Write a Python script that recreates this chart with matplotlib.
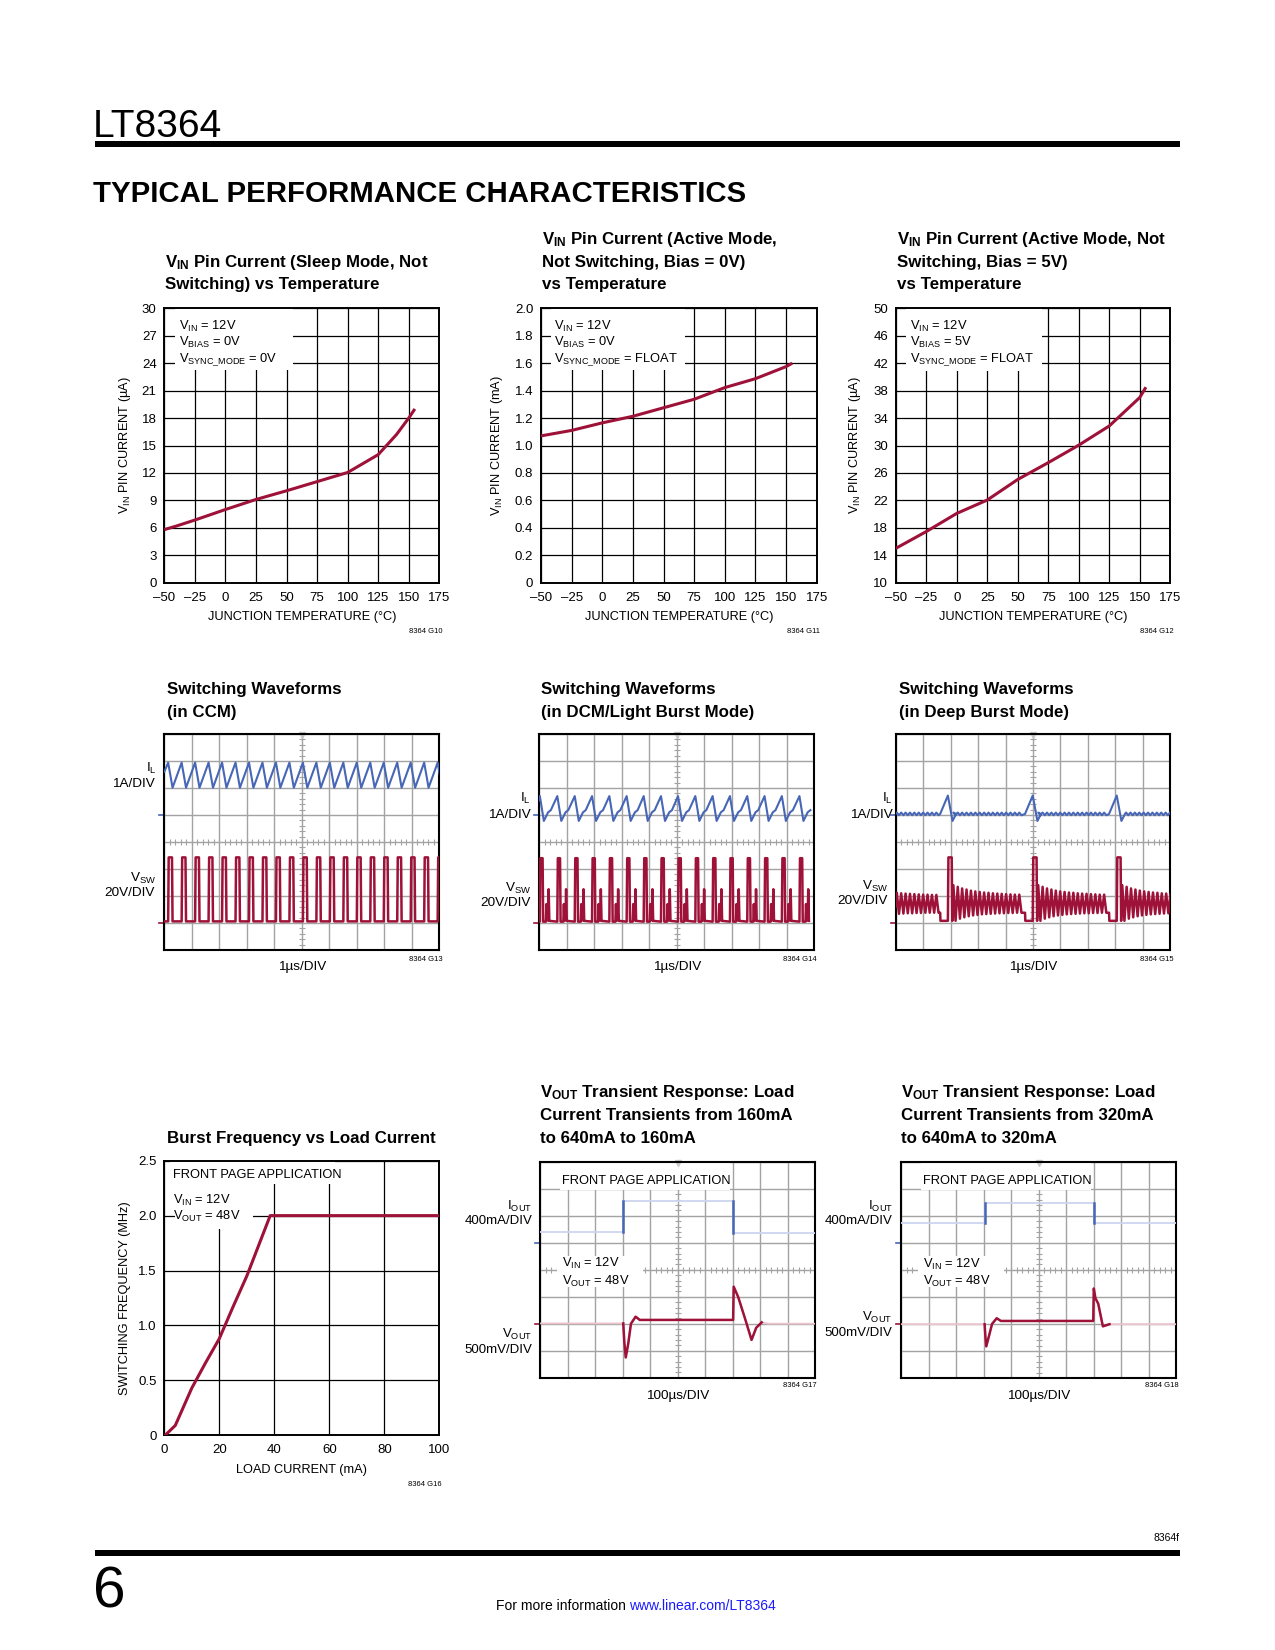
import matplotlib
matplotlib.use("Agg")
import matplotlib.pyplot as plt
from matplotlib.patches import Rectangle
import numpy as np

W, H = 1275, 1650
FONT = ["Liberation Sans", "DejaVu Sans"]
RED = "#9e1138"
BLUE = "#4766b6"
RED_FAINT = "#ebc3cd"
BLUE_FAINT = "#ccd6ef"
SCOPE_GRID = "#a3a3a3"

plt.rcParams["font.family"] = FONT
plt.rcParams["mathtext.fontset"] = "custom"
plt.rcParams["mathtext.rm"] = "Liberation Sans"
plt.rcParams["mathtext.it"] = "Liberation Sans:italic"
plt.rcParams["mathtext.bf"] = "Liberation Sans:bold"

TICK_FS = 9.5
NOTE_FS = 9.3
LABEL_FS = 9.2
TITLE_FS = 12.2

# ---------------- data ----------------
temp_ticks = [-50, -25, 0, 25, 50, 75, 100, 125, 150, 175]
temp_labels = ["\u201350", "\u201325", "0", "25", "50", "75", "100", "125", "150", "175"]

# G10 sleep mode current (uA)
g10_temp = [-50, -40, -25, 0, 25, 50, 75, 100, 125, 140, 150, 155]
g10_current = [5.8, 6.2, 6.85, 8.0, 9.1, 10.05, 11.05, 12.05, 14.0, 16.2, 18.0, 19.0]
g10_yticks = [0, 3, 6, 9, 12, 15, 18, 21, 24, 27, 30]

# G11 active mode, bias 0V (mA)
g11_temp = [-50, -25, 0, 25, 50, 75, 100, 125, 150, 155]
g11_current = [1.07, 1.11, 1.165, 1.213, 1.275, 1.337, 1.422, 1.487, 1.575, 1.60]
g11_yticks = [0, 0.2, 0.4, 0.6, 0.8, 1.0, 1.2, 1.4, 1.6, 1.8, 2.0]
g11_ylabels = ["0", "0.2", "0.4", "0.6", "0.8", "1.0", "1.2", "1.4", "1.6", "1.8", "2.0"]

# G12 active mode, bias 5V (uA)
g12_temp = [-50, -25, 0, 25, 50, 75, 100, 125, 150, 155]
g12_current = [15.0, 17.45, 20.1, 22.05, 25.05, 27.5, 30.05, 32.85, 37.0, 38.5]
g12_yticks = [10, 14, 18, 22, 26, 30, 34, 38, 42, 46, 50]

# G16 burst frequency vs load
g16_load = [0.3, 4, 10, 15, 20, 25, 30, 38.5, 100]
g16_freq = [0.0, 0.09, 0.43, 0.66, 0.88, 1.17, 1.45, 2.0, 2.0]
g16_xticks = [0, 20, 40, 60, 80, 100]
g16_yticks = [0, 0.5, 1.0, 1.5, 2.0, 2.5]
g16_ylabels = ["0", "0.5", "1.0", "1.5", "2.0", "2.5"]

# scope traces, in screen divisions (x 0..10, y 0..8 from bottom)
# G13 CCM: switch-node rising edges
ccm_rise = [0.14, 0.63, 1.12, 1.61, 2.10, 2.59, 3.08, 3.57, 4.06, 4.55, 5.04,
            5.53, 6.02, 6.51, 7.00, 7.49, 7.98, 8.47, 8.96, 9.45, 9.94]
ccm_width = 0.14
ccm_sw_hi, ccm_sw_lo = 3.43, 1.06
ccm_il_hi, ccm_il_lo = 6.94, 6.01
ccm_il_start = 6.6

# G14 DCM / light burst
dcm_rise = [0.02, 0.655, 1.29, 1.92, 2.55, 3.18, 3.80, 4.43, 5.05, 5.68,
            6.31, 6.94, 7.57, 8.20, 8.83, 9.47]
dcm_il_offset = [0.0, 0.146, 0.30, 0.40]
dcm_il_level = [5.70, 4.78, 5.10, 5.18]
dcm_sw_offset = [0.0, 0.02, 0.10, 0.12, 0.22, 0.24, 0.26, 0.30, 0.32, 0.345]
dcm_sw_level = [1.05, 3.40, 3.40, 1.05, 1.05, 1.70, 1.10, 1.10, 2.25, 1.08]

# G15 deep burst
deep_burst = [1.90, 4.99, 8.05]
deep_on_lead = 0.28
deep_pulse_w = 0.14
deep_ring_period = 0.16
deep_ring_hi = [2.40, 2.34, 2.28, 2.24, 2.20, 2.17, 2.15, 2.13, 2.12, 2.10,
                2.09, 2.08, 2.07, 2.06, 2.05, 2.05, 2.04]
deep_ring_lo = [1.08, 1.16, 1.21, 1.25, 1.28, 1.30, 1.32, 1.33, 1.34, 1.35,
                1.36, 1.36, 1.37, 1.37, 1.38, 1.38, 1.38]
deep_sw_hi, deep_sw_lo = 3.43, 1.08
deep_il_mid, deep_il_ripple = 5.04, 0.05
deep_il_peak, deep_il_valley = 5.72, 4.78

# G17 transient 160mA -> 640mA -> 160mA
g17_iout_t = [0, 3.02, 3.02, 7.03, 7.03, 10]
g17_iout_v = [5.38, 5.38, 6.53, 6.53, 5.36, 5.36]
g17_vout_t = [0, 3.02, 3.06, 3.11, 3.20, 3.30, 3.47, 3.62, 7.02, 7.04, 7.20,
              7.45, 7.69, 7.86, 8.06, 8.3, 10]
g17_vout_v = [2.01, 2.01, 1.30, 0.75, 1.25, 2.0, 2.26, 2.14, 2.14, 3.37, 3.0,
              2.2, 1.40, 1.85, 2.05, 2.0, 2.0]
g17_dark = (3.0, 8.1)

# G18 transient 320mA -> 640mA -> 320mA
g18_iout_t = [0, 3.03, 3.03, 6.99, 6.99, 10]
g18_iout_v = [5.74, 5.74, 6.48, 6.48, 5.74, 5.74]
g18_vout_t = [0, 3.03, 3.06, 3.09, 3.20, 3.30, 3.47, 3.62, 6.98, 7.00, 7.06,
              7.16, 7.33, 7.45, 7.57, 10]
g18_vout_v = [1.99, 1.99, 1.50, 1.17, 1.60, 2.0, 2.21, 2.11, 2.11, 3.31, 2.95,
              2.75, 1.91, 1.95, 1.99, 1.99]
g18_dark = (3.0, 7.6)


# ---------------- helpers ----------------
def add_axes(fig, left, top, right, bottom):
    return fig.add_axes([left / W, 1 - bottom / H, (right - left) / W, (bottom - top) / H])


def ftext(fig, x, y, s, **kw):
    kw.setdefault("va", "baseline")
    return fig.text(x / W, 1 - y / H, s, **kw)


def title(fig, x, y0, lines):
    for i, line in enumerate(lines):
        ftext(fig, x, y0 + i * 22.7, line, fontsize=TITLE_FS, fontweight="bold")


def style_graph(ax, xlim, xticks, xlabels, ylim, yticks, ylabels):
    ax.set_xlim(*xlim)
    ax.set_ylim(*ylim)
    ax.set_xticks(xticks, xlabels)
    ax.set_yticks(yticks, ylabels)
    ax.grid(True, color="black", lw=0.9)
    ax.tick_params(length=0, labelsize=TICK_FS)
    ax.tick_params(axis="x", pad=6.5)
    ax.tick_params(axis="y", pad=5.5)
    for s in ax.spines.values():
        s.set_linewidth(1.4)


def cover(ax, x0, x1, y0, y1):
    ax.add_patch(Rectangle((x0, y0), x1 - x0, y1 - y0, facecolor="white",
                           edgecolor="none", zorder=1.8))


def style_scope(ax):
    ax.set_xlim(0, 10)
    ax.set_ylim(0, 8)
    ax.set_xticks(range(11))
    ax.set_yticks(range(9))
    ax.tick_params(length=0, labelbottom=False, labelleft=False)
    ax.grid(True, color=SCOPE_GRID, lw=1.0)
    for s in ax.spines.values():
        s.set_linewidth(1.5)
    xm = np.arange(0.2, 10, 0.2)
    ym = np.arange(0.2, 8, 0.2)
    ax.plot(xm, np.full_like(xm, 4), ls="none", marker="|", ms=4, mew=0.8,
            color=SCOPE_GRID, zorder=1.6)
    ax.plot(np.full_like(ym, 5), ym, ls="none", marker="_", ms=4, mew=0.8,
            color=SCOPE_GRID, zorder=1.6)
    ax.plot([5], [7.97], ls="none", marker="v", ms=4, color="#c8c8c8", clip_on=False)


def channel_marks(ax, y_blue, y_red):
    ax.plot([-0.18, 0], [y_blue, y_blue], color=BLUE, lw=1.2, clip_on=False)
    ax.plot([-0.18, 0], [y_red, y_red], color=RED, lw=1.2, clip_on=False)


def ring(t0, t1, hi, lo, start=0):
    ts, vs = [], []
    k = 0
    while True:
        th = t0 + (k + 0.25) * deep_ring_period
        tl = t0 + (k + 0.75) * deep_ring_period
        if tl > t1:
            break
        i = min(start + k, len(hi) - 1)
        ts += [th, tl]
        vs += [hi[i], lo[i]]
        k += 1
    return ts, vs


fig = plt.figure(figsize=(W / 100, H / 100), dpi=100)

# ---------------- page furniture ----------------
ftext(fig, 93, 137, "LT8364", fontsize=28)
fig.add_artist(Rectangle((95 / W, 1 - 147 / H), 1085 / W, 6 / H, transform=fig.transFigure,
                         facecolor="black", edgecolor="none"))
ftext(fig, 93, 202, "TYPICAL PERFORMANCE CHARACTERISTICS", fontsize=21.2, fontweight="bold")
ftext(fig, 1180, 1541, "8364f", fontsize=7.5, ha="right")
fig.add_artist(Rectangle((95 / W, 1 - 1556 / H), 1085 / W, 6 / H, transform=fig.transFigure,
                         facecolor="black", edgecolor="none"))
ftext(fig, 93, 1608, "6", fontsize=42)
ftext(fig, 626, 1610, "For more information", fontsize=10, ha="right")
ftext(fig, 629, 1610, "www.linear.com/LT8364", fontsize=10, color="#1a1aff")

# ---------------- row 1: VIN pin current ----------------
row1 = [
    (164.3, 439.3, g10_temp, g10_current, (0, 30), g10_yticks, [str(v) for v in g10_yticks],
     "V$_{\\mathrm{IN}}$ PIN CURRENT (\u00b5A)", 125, "8364 G10",
     ["V$_{\\mathbf{IN}}$ Pin Current (Sleep Mode, Not", "Switching) vs Temperature"], 266.7,
     ["V$_{\\mathrm{IN}}$ = 12V", "V$_{\\mathrm{BIAS}}$ = 0V", "V$_{\\mathrm{SYNC\\_MODE}}$ = 0V"],
     (-41.3, 55.5, 23.25), -38, [27.63, 25.92, 24.1]),
    (541.0, 816.7, g11_temp, g11_current, (0, 2.0), g11_yticks, g11_ylabels,
     "V$_{\\mathrm{IN}}$ PIN CURRENT (mA)", 496.7, "8364 G11",
     ["V$_{\\mathbf{IN}}$ Pin Current (Active Mode,", "Not Switching, Bias = 0V)", "vs Temperature"], 244,
     ["V$_{\\mathrm{IN}}$ = 12V", "V$_{\\mathrm{BIAS}}$ = 0V", "V$_{\\mathrm{SYNC\\_MODE}}$ = FLOAT"],
     (-41.8, 67.5, 1.55), -39.4, [1.842, 1.728, 1.607]),
    (895.7, 1170.3, g12_temp, g12_current, (10, 50), g12_yticks, [str(v) for v in g12_yticks],
     "V$_{\\mathrm{IN}}$ PIN CURRENT (\u00b5A)", 855, "8364 G12",
     ["V$_{\\mathbf{IN}}$ Pin Current (Active Mode, Not", "Switching, Bias = 5V)", "vs Temperature"], 244,
     ["V$_{\\mathrm{IN}}$ = 12V", "V$_{\\mathrm{BIAS}}$ = 5V", "V$_{\\mathrm{SYNC\\_MODE}}$ = FLOAT"],
     (-41.8, 69.6, 40.9), -38.5, [46.84, 44.56, 42.13]),
]
for (left, right, xs, ys, ylim, yt, yl, ylab, ylab_x, tag, ttl, ttl_y,
     notes, box, note_x, note_y) in row1:
    ax = add_axes(fig, left, 308.3, right, 582.7)
    style_graph(ax, (-50, 175), temp_ticks, temp_labels, ylim, yt, yl)
    cover(ax, box[0], box[1], box[2], ylim[1])
    for s, y in zip(notes, note_y):
        ax.text(note_x, y, s, fontsize=NOTE_FS, va="baseline", zorder=3)
    ax.plot(xs, ys, color=RED, lw=2.2, zorder=4, solid_capstyle="butt")
    title(fig, left + 1, ttl_y, ttl)
    ftext(fig, (left + right) / 2, 620.5, "JUNCTION TEMPERATURE (\u00b0C)", fontsize=LABEL_FS, ha="center")
    ftext(fig, ylab_x, 445.5, ylab, fontsize=LABEL_FS, rotation=90, ha="center", va="center")
    ftext(fig, right + 3, 633, tag, fontsize=5.5, ha="right")

# ---------------- row 2: switching waveforms ----------------
# CCM
il_t, il_v = [0.0], [ccm_il_start]
sw_t, sw_v = [0.0], [ccm_sw_lo]
for t in ccm_rise:
    il_t += [t, t + ccm_width + 0.02]
    il_v += [ccm_il_hi, ccm_il_lo]
    sw_t += [t, t + 0.02, t + ccm_width, t + ccm_width + 0.02]
    sw_v += [ccm_sw_lo, ccm_sw_hi, ccm_sw_hi, ccm_sw_lo]
ccm = (il_t, il_v, sw_t, sw_v)

# DCM
il_t, il_v = [0.0], [5.55]
sw_t, sw_v = [0.0], [1.05]
for t in dcm_rise:
    il_t += [t + o for o in dcm_il_offset]
    il_v += dcm_il_level
    sw_t += [t + o for o in dcm_sw_offset]
    sw_v += dcm_sw_level
dcm = (il_t, il_v, sw_t, sw_v)

# deep burst
sw_t, sw_v = [0.0], [1.6]
il_t, il_v = [0.0], [deep_il_mid]
seg_start = 0.0
seg_idx = 8
il_hi = [deep_il_mid + deep_il_ripple] * 30
il_lo = [deep_il_mid - deep_il_ripple] * 30
for t in deep_burst:
    on = t - deep_on_lead
    rt, rv = ring(seg_start, on, deep_ring_hi, deep_ring_lo, seg_idx)
    sw_t += rt + [on, on + 0.01, t, t + 0.02, t + deep_pulse_w, t + deep_pulse_w + 0.02]
    sw_v += rv + [rv[-1], deep_sw_lo, deep_sw_lo, deep_sw_hi, deep_sw_hi, deep_sw_lo]
    it, iv = ring(seg_start, on, il_hi, il_lo)
    il_t += it + [on, t, t + 0.17, t + 0.30]
    il_v += iv + [deep_il_mid, deep_il_peak, deep_il_valley, deep_il_mid]
    seg_start = t + deep_pulse_w + 0.02
    seg_idx = 0
rt, rv = ring(seg_start, 10.3, deep_ring_hi, deep_ring_lo, 0)
sw_t += rt
sw_v += rv
it, iv = ring(deep_burst[-1] + 0.30, 10.3, il_hi, il_lo)
il_t += it
il_v += iv
deep = (il_t, il_v, sw_t, sw_v)

row2 = [
    (164.3, 439.3, ccm, ["Switching Waveforms", "(in CCM)"], 166.7, "8364 G13",
     (156.7, 771.5, 786.7, 155), (156, 881.5, 896, 155)),
    (539.3, 814.0, dcm, ["Switching Waveforms", "(in DCM/Light Burst Mode)"], 541, "8364 G14",
     (531, 801.7, 818.3, 531), (531, 891.5, 906, 531)),
    (895.7, 1170.3, deep, ["Switching Waveforms", "(in Deep Burst Mode)"], 899, "8364 G15",
     (892.3, 801.7, 818.3, 892.3), (888, 889.8, 904.3, 888)),
]
for left, right, tr, ttl, ttl_x, tag, il_lab, sw_lab in row2:
    ax = add_axes(fig, left, 734, right, 950)
    style_scope(ax)
    channel_marks(ax, 5, 1)
    ax.plot(tr[0], tr[1], color=BLUE, lw=1.5, zorder=3)
    ax.plot(tr[2], tr[3], color=RED, lw=1.8, zorder=3)
    title(fig, ttl_x, 694, ttl)
    ftext(fig, il_lab[0], il_lab[1], "I$_{\\mathrm{L}}$", fontsize=LABEL_FS + 0.5, ha="right")
    ftext(fig, il_lab[3], il_lab[2], "1A/DIV", fontsize=LABEL_FS + 0.5, ha="right")
    ftext(fig, sw_lab[0], sw_lab[1], "V$_{\\mathrm{SW}}$", fontsize=LABEL_FS + 0.5, ha="right")
    ftext(fig, sw_lab[3], sw_lab[2], "20V/DIV", fontsize=LABEL_FS + 0.5, ha="right")
    ftext(fig, (left + right) / 2, 970, "1\u00b5s/DIV", fontsize=LABEL_FS + 0.5, ha="center")
    ftext(fig, right + 3, 961, tag, fontsize=5.5, ha="right")

# ---------------- row 3 ----------------
# G16 burst frequency
ax = add_axes(fig, 164.3, 1160.7, 439.3, 1435.3)
style_graph(ax, (0, 100), g16_xticks, [str(v) for v in g16_xticks],
            (0, 2.5), g16_yticks, g16_ylabels)
cover(ax, 2, 62, 2.29, 2.5)
cover(ax, 4, 32.4, 1.88, 2.29)
ax.text(3.3, 2.345, "FRONT PAGE APPLICATION", fontsize=NOTE_FS, va="baseline", zorder=3)
ax.text(3.3, 2.11, "V$_{\\mathrm{IN}}$ = 12V", fontsize=NOTE_FS, va="baseline", zorder=3)
ax.text(3.3, 1.96, "V$_{\\mathrm{OUT}}$ = 48V", fontsize=NOTE_FS, va="baseline", zorder=3)
ax.plot(g16_load, g16_freq, color=RED, lw=2.2, zorder=4)
title(fig, 166.7, 1143.3, ["Burst Frequency vs Load Current"])
ftext(fig, 301.8, 1473, "LOAD CURRENT (mA)", fontsize=LABEL_FS, ha="center")
ftext(fig, 125, 1298, "SWITCHING FREQUENCY (MHz)", fontsize=LABEL_FS, rotation=90, ha="center", va="center")
ftext(fig, 442, 1486, "8364 G16", fontsize=5.5, ha="right")

row3 = [
    (540.3, 815.0, 1161.7, 1377.7, g17_iout_t, g17_iout_v, g17_vout_t, g17_vout_v, g17_dark,
     ["V$_{\\mathbf{OUT}}$ Transient Response: Load", "Current Transients from 160mA", "to 640mA to 160mA"],
     540, 532.3, (1337.5, 1352.7), "8364 G17"),
    (901.3, 1176.3, 1161.7, 1378.0, g18_iout_t, g18_iout_v, g18_vout_t, g18_vout_v, g18_dark,
     ["V$_{\\mathbf{OUT}}$ Transient Response: Load", "Current Transients from 320mA", "to 640mA to 320mA"],
     901, 892.7, (1320.5, 1335.7), "8364 G18"),
]
for (left, right, top, bottom, it, iv, vt, vv, dark, ttl, ttl_x, lab_x, vlab_y, tag) in row3:
    ax = add_axes(fig, left, top, right, bottom)
    style_scope(ax)
    channel_marks(ax, 5, 2)
    cover(ax, 0.72, 6.9, 6.95, 8.0)
    cover(ax, 0.6, 3.75, 3.35, 4.5)
    ax.text(0.79, 7.17, "FRONT PAGE APPLICATION", fontsize=NOTE_FS, va="baseline", zorder=3)
    ax.text(0.78, 4.09, "V$_{\\mathrm{IN}}$ = 12V", fontsize=NOTE_FS, va="baseline", zorder=3)
    ax.text(0.78, 3.43, "V$_{\\mathrm{OUT}}$ = 48V", fontsize=NOTE_FS, va="baseline", zorder=3)
    ax.plot(it, iv, color=BLUE_FAINT, lw=1.3, zorder=3)
    ax.plot(it[1:3], iv[1:3], color=BLUE, lw=1.8, zorder=3.5)
    ax.plot(it[3:5], iv[3:5], color=BLUE, lw=1.8, zorder=3.5)
    ax.plot(vt, vv, color=RED_FAINT, lw=1.3, zorder=3)
    vt_a, vv_a = np.array(vt), np.array(vv)
    keep = (vt_a >= dark[0]) & (vt_a <= dark[1])
    ax.plot(vt_a[keep], vv_a[keep], color=RED, lw=1.8, zorder=3.5)
    title(fig, ttl_x, 1097.3, ttl)
    ftext(fig, lab_x, 1209.5, "I$_{\\mathrm{OUT}}$", fontsize=LABEL_FS + 0.3, ha="right")
    ftext(fig, lab_x, 1224, "400mA/DIV", fontsize=LABEL_FS + 0.3, ha="right")
    ftext(fig, lab_x, vlab_y[0], "V$_{\\mathrm{OUT}}$", fontsize=LABEL_FS + 0.3, ha="right")
    ftext(fig, lab_x, vlab_y[1], "500mV/DIV", fontsize=LABEL_FS + 0.3, ha="right")
    ftext(fig, (left + right) / 2, 1399, "100\u00b5s/DIV", fontsize=LABEL_FS + 0.5, ha="center")
    ftext(fig, right + 2, 1387, tag, fontsize=5.5, ha="right")

fig.savefig("out.png", dpi=100)
